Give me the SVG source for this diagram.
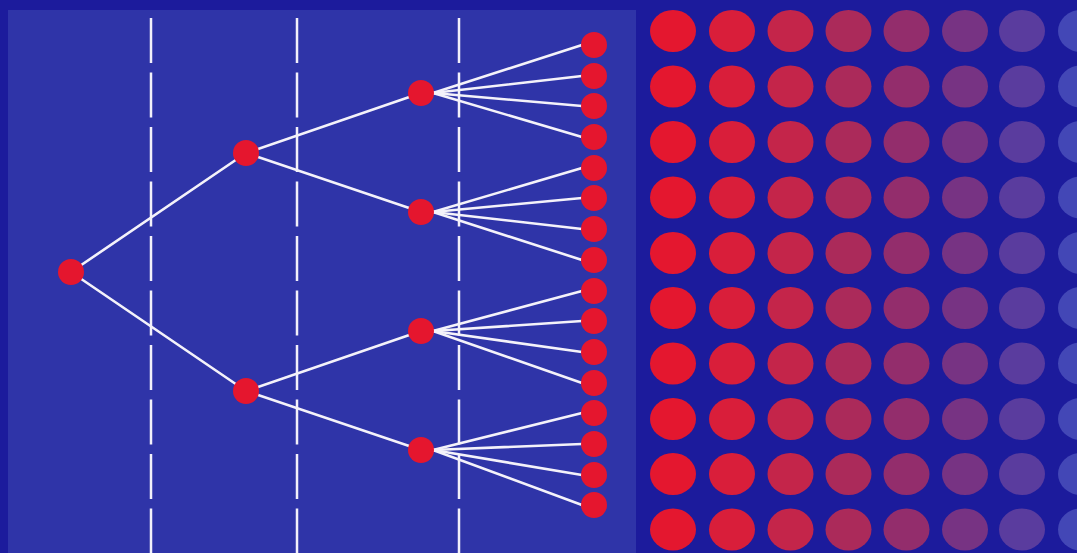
<svg xmlns="http://www.w3.org/2000/svg" width="1077" height="553" viewBox="0 0 1077 553">
<style>
.dash{stroke:#f2f0fa;stroke-width:2.5;stroke-dasharray:45 9.5;fill:none}
.edge{stroke:#f4f2fa;stroke-width:2.6;fill:none;stroke-linecap:round}
.node{fill:#e5162e}
.c1{fill:#e4172f}.c2{fill:#d91e3a}.c3{fill:#c4254a}.c4{fill:#ab2a5a}.c5{fill:#932d6c}.c6{fill:#773383}.c7{fill:#5a3c9e}.c8{fill:#4347b6}
</style>
<rect x="0" y="0" width="1077" height="553" fill="#1c1b9c"/>
<rect x="8" y="10" width="628" height="543" fill="#2f34a8"/>
<g id="dividers">
<line class="dash" x1="151" y1="18" x2="151" y2="553"/>
<line class="dash" x1="297" y1="18" x2="297" y2="553"/>
<line class="dash" x1="459" y1="18" x2="459" y2="553"/>
</g>
<g id="connectors">
<line class="edge" x1="71" y1="272" x2="246" y2="153"/>
<line class="edge" x1="71" y1="272" x2="246" y2="391"/>
<line class="edge" x1="246" y1="153" x2="421" y2="93"/>
<line class="edge" x1="246" y1="153" x2="421" y2="212"/>
<line class="edge" x1="246" y1="391" x2="421" y2="331"/>
<line class="edge" x1="246" y1="391" x2="421" y2="450"/>
<line class="edge" x1="433" y1="93" x2="582" y2="45"/>
<line class="edge" x1="433" y1="93" x2="582" y2="76"/>
<line class="edge" x1="433" y1="93" x2="582" y2="106"/>
<line class="edge" x1="433" y1="93" x2="582" y2="137"/>
<line class="edge" x1="433" y1="212" x2="582" y2="168"/>
<line class="edge" x1="433" y1="212" x2="582" y2="198"/>
<line class="edge" x1="433" y1="212" x2="582" y2="229"/>
<line class="edge" x1="433" y1="212" x2="582" y2="260"/>
<line class="edge" x1="433" y1="331" x2="582" y2="291"/>
<line class="edge" x1="433" y1="331" x2="582" y2="321"/>
<line class="edge" x1="433" y1="331" x2="582" y2="352"/>
<line class="edge" x1="433" y1="331" x2="582" y2="383"/>
<line class="edge" x1="433" y1="450" x2="582" y2="413"/>
<line class="edge" x1="433" y1="450" x2="582" y2="444"/>
<line class="edge" x1="433" y1="450" x2="582" y2="475"/>
<line class="edge" x1="433" y1="450" x2="582" y2="505"/>
</g>
<g id="root"><circle class="node" cx="71" cy="272" r="13"/></g>
<g id="n2a"><circle class="node" cx="246" cy="153" r="13"/></g>
<g id="n2b"><circle class="node" cx="246" cy="391" r="13"/></g>
<g id="n3a"><circle class="node" cx="421" cy="93" r="13"/></g>
<g id="n3b"><circle class="node" cx="421" cy="212" r="13"/></g>
<g id="n3c"><circle class="node" cx="421" cy="331" r="13"/></g>
<g id="n3d"><circle class="node" cx="421" cy="450" r="13"/></g>
<g id="leaves">
<circle class="node" cx="594" cy="45" r="13"/>
<circle class="node" cx="594" cy="76" r="13"/>
<circle class="node" cx="594" cy="106" r="13"/>
<circle class="node" cx="594" cy="137" r="13"/>
<circle class="node" cx="594" cy="168" r="13"/>
<circle class="node" cx="594" cy="198" r="13"/>
<circle class="node" cx="594" cy="229" r="13"/>
<circle class="node" cx="594" cy="260" r="13"/>
<circle class="node" cx="594" cy="291" r="13"/>
<circle class="node" cx="594" cy="321" r="13"/>
<circle class="node" cx="594" cy="352" r="13"/>
<circle class="node" cx="594" cy="383" r="13"/>
<circle class="node" cx="594" cy="413" r="13"/>
<circle class="node" cx="594" cy="444" r="13"/>
<circle class="node" cx="594" cy="475" r="13"/>
<circle class="node" cx="594" cy="505" r="13"/>
</g>
<defs>
<g id="col">
<ellipse cx="0" cy="31" rx="23" ry="21"/>
<ellipse cx="0" cy="86.5" rx="23" ry="21"/>
<ellipse cx="0" cy="142" rx="23" ry="21"/>
<ellipse cx="0" cy="197.5" rx="23" ry="21"/>
<ellipse cx="0" cy="253" rx="23" ry="21"/>
<ellipse cx="0" cy="308" rx="23" ry="21"/>
<ellipse cx="0" cy="363.5" rx="23" ry="21"/>
<ellipse cx="0" cy="419" rx="23" ry="21"/>
<ellipse cx="0" cy="474" rx="23" ry="21"/>
<ellipse cx="0" cy="529.5" rx="23" ry="21"/>
</g>
</defs>
<g id="grid">
<use href="#col" x="673" class="c1"/>
<use href="#col" x="732" class="c2"/>
<use href="#col" x="790.5" class="c3"/>
<use href="#col" x="848.5" class="c4"/>
<use href="#col" x="906.5" class="c5"/>
<use href="#col" x="965" class="c6"/>
<use href="#col" x="1022" class="c7"/>
<use href="#col" x="1081" class="c8"/>
</g>
</svg>
